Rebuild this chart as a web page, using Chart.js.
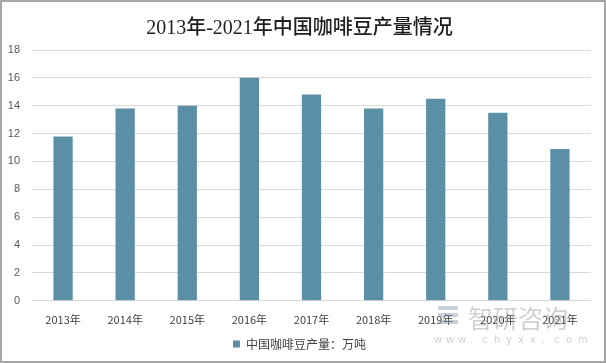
<!DOCTYPE html>
<html><head><meta charset="utf-8">
<script src="https://cdn.jsdelivr.net/npm/chart.js@4"></script>
<style>html,body{margin:0;padding:0;background:#fff}#wrap{width:606px;height:363px;position:relative}</style>
</head><body><div id="wrap"><canvas id="c" width="606" height="363"></canvas></div>
<script>
const categories = ['2013年','2014年','2015年','2016年','2017年','2018年','2019年','2020年','2021年'];
const production = [11.8, 13.8, 14.0, 16.0, 14.8, 13.8, 14.5, 13.5, 10.9];
const seriesName = '中国咖啡豆产量：万吨';
const titleText = '2013年-2021年中国咖啡豆产量情况';

const frame = {
  id: 'frame',
  afterDraw(chart) {
    const ctx = chart.ctx;
    ctx.save();
    // watermark
    ctx.fillStyle = 'rgba(150,150,150,0.45)';
    ctx.font = '25px "Noto Sans CJK SC"';
    ctx.textBaseline = 'middle';
    ctx.fillText('智研咨询', 468, 318);
    ctx.font = '10px "DejaVu Sans"';
    const s = 'www.chyxx.com';
    let x = 434;
    for (const ch of s) { ctx.fillText(ch, x, 340); x += 12; }
    ctx.fillStyle = 'rgba(120,140,170,0.4)';
    ctx.fillRect(438, 306, 20, 4);
    ctx.fillRect(438, 313, 20, 4);
    ctx.fillRect(438, 320, 20, 4);
    ctx.strokeStyle = '#a6a6a6';
    ctx.lineWidth = 2;
    ctx.strokeRect(1, 1, 604, 361);
    ctx.restore();
  }
};

new Chart(document.getElementById('c'), {
  type: 'bar',
  data: {
    labels: categories,
    datasets: [{
      label: seriesName,
      data: production,
      backgroundColor: '#5b8fa6',
      categoryPercentage: 1,
      barPercentage: 0.31
    }]
  },
  plugins: [frame],
  options: {
    responsive: false,
    animation: false,
    layout: { padding: { left: 8, right: 15, top: 0, bottom: 3 } },
    plugins: {
      title: {
        display: true, text: titleText, color: '#1f1f1f',
        font: { family: '"Liberation Serif", "Noto Sans CJK SC"', size: 20, weight: '500' },
        padding: { top: 17, bottom: 9 }
      },
      legend: {
        position: 'bottom',
        labels: { boxWidth: 7, boxHeight: 7, color: '#404040', padding: 8,
          font: { family: '"Noto Sans CJK SC"', size: 12 } }
      },
      tooltip: { enabled: false }
    },
    scales: {
      x: {
        grid: { display: false },
        border: { display: false },
        ticks: { color: '#404040', font: { family: '"Noto Sans CJK SC"', size: 11 }, padding: 4, maxRotation: 0 }
      },
      y: {
        min: 0, max: 18,
        ticks: { stepSize: 2, color: '#595959', font: { family: '"Liberation Sans"', size: 11 }, padding: 12 },
        grid: { color: '#d9d9d9', lineWidth: 1, drawTicks: false },
        border: { display: false },
        afterFit(scale) { scale.width = 24; }
      }
    }
  }
});
</script></body></html>
